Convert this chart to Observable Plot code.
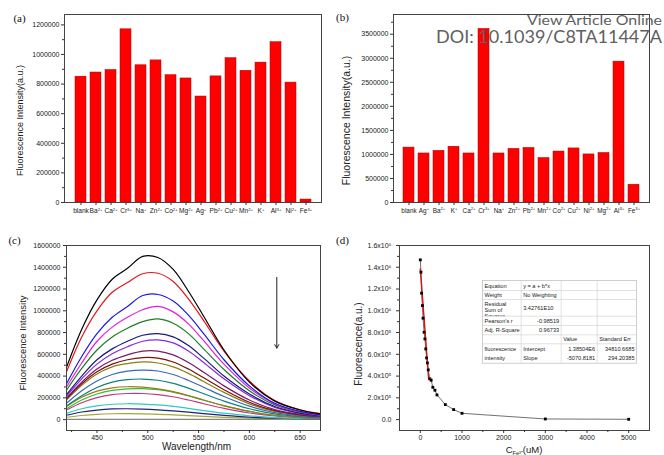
<!DOCTYPE html>
<html><head><meta charset="utf-8">
<script src="https://cdn.jsdelivr.net/npm/d3@7"></script>
<script src="https://cdn.jsdelivr.net/npm/@observablehq/plot@0.6"></script>
<style>
body{margin:0;background:#fff;}
#fig{position:relative;width:664px;height:455px;overflow:hidden;background:#fff;}
.panel{position:absolute;}
</style></head><body><div id="fig"></div>
<script>
// ---------- DATA ----------
const ionsA = ["blank","Ba²⁺","Ca²⁺","Cr³⁺","Na⁺","Zn²⁺","Co²⁺","Mg²⁺","Ag⁺","Pb²⁺","Cu²⁺","Mn²⁺","K⁺","Al³⁺","Ni²⁺","Fe³⁺"];
const intensityA = [850000,878000,895000,1170000,927000,960000,860000,838000,716000,852000,975000,890000,945000,1083000,810000,20000];
const ionsB = ["blank","Ag⁺","Ba²⁺","K⁺","Ca²⁺","Cr³⁺","Na⁺","Zn²⁺","Pb²⁺","Mn²⁺","Co²⁺","Cu²⁺","Ni²⁺","Mg²⁺","Al³⁺","Fe³⁺"];
const intensityB = [1142000,1020000,1075000,1160000,1020000,3610000,1020000,1115000,1135000,925000,1060000,1125000,1000000,1030000,2930000,370000];

const yTicksA = [0,200000,400000,600000,800000,1000000,1200000];
const yTicksB = [0,500000,1000000,1500000,2000000,2500000,3000000,3500000];

const wavelengths = [420,435,450,465,480,495,510,525,540,555,575,600,625,650,670];
const spectrum01 = [480000,830000,1100000,1290000,1390000,1500000,1490000,1380000,1180000,950000,640000,345000,170000,88000,52000];
const spectrum02 = [440000,760000,1000000,1170000,1260000,1340000,1345000,1270000,1110000,910000,630000,355000,175000,90000,55000];
const spectrum03 = [330000,580000,790000,940000,1040000,1140000,1150000,1090000,960000,790000,550000,310000,150000,75000,45000];
const spectrum04 = [300000,520000,720000,850000,940000,1010000,1040000,990000,880000,725000,510000,290000,145000,72000,42000];
const spectrum05 = [270000,470000,640000,760000,840000,900000,925000,885000,790000,650000,460000,265000,135000,68000,40000];
const spectrum06 = [230000,400000,550000,650000,720000,775000,790000,760000,680000,565000,400000,235000,120000,60000,36000];
const spectrum07 = [215000,375000,510000,605000,670000,720000,733000,705000,630000,525000,375000,220000,112000,57000,34000];
const spectrum08 = [200000,345000,465000,545000,595000,630000,630000,595000,525000,435000,310000,180000,92000,48000,30000];
const spectrum09 = [190000,330000,440000,510000,550000,570000,565000,530000,465000,385000,275000,160000,82000,43000,27000];
const spectrum10 = [180000,315000,420000,485000,515000,530000,520000,485000,425000,350000,250000,145000,75000,40000,25000];
const spectrum11 = [150000,265000,355000,415000,445000,455000,447000,415000,360000,298000,212000,124000,64000,34000,21000];
const spectrum12 = [125000,220000,295000,345000,368000,373000,362000,333000,290000,238000,170000,100000,52000,28000,18000];
const spectrum13 = [120000,205000,262000,292000,302000,298000,283000,258000,222000,180000,128000,75000,40000,22000,14000];
const spectrum14 = [100000,180000,235000,268000,283000,285000,275000,252000,218000,178000,127000,75000,40000,22000,14000];
const spectrum15 = [88000,155000,202000,230000,240000,240000,230000,210000,180000,146000,104000,61000,33000,18000,11000];
const spectrum16 = [58000,100000,127000,141000,146000,143000,135000,121000,103000,83000,59000,35000,19000,11000,7000];
const spectrum17 = [40000,70000,88000,98000,100000,97000,90000,80000,68000,55000,39000,23000,13000,8000,5000];
const spectrum18 = [22000,38000,49000,54000,55000,53000,49000,43000,37000,30000,21000,13000,8000,5000,3000];
const spectrum19 = [2000,2000,2000,2000,2000,2000,2000,2000,2000,2000,2000,2000,2000,2000,2000];
const spectra = [spectrum01,spectrum02,spectrum03,spectrum04,spectrum05,spectrum06,spectrum07,spectrum08,spectrum09,spectrum10,spectrum11,spectrum12,spectrum13,spectrum14,spectrum15,spectrum16,spectrum17,spectrum18,spectrum19];
const spectraColors = ["#000000","#e8141c","#1a1ae0","#e020e0","#1f7f1f","#1a1a7a","#8a2ae2","#7a1a6a","#7a1010","#8a8010","#3a6ab8","#108080","#a07820","#30c030","#c03a80","#30c8c8","#202080","#a8a830","#888888"];
const arrowC = {x: 627, y1: 1307000, y2: 657000};

const concentration = [0,15,30,50,65,90,110,130,150,170,190,230,260,300,350,400,600,800,1000,3000,5000];
const fluorescence = [1468000,1355000,1162000,1048000,932000,803000,742000,650000,567000,521000,457000,374000,362000,297000,270000,227000,138000,92000,58000,6000,3000];
const fitIntercept = 1385040;
const fitSlope = -5070.8181;
const fitRange = [0, 200];

const fitTable = [
  ["Equation","y = a + b*x","",""],
  ["Weight","No Weighting","",""],
  ["Residual|Sum of|Squares","3.42761E10","",""],
  ["Pearson's r","-0.98519","",""],
  ["Adj. R-Square","0.96733","",""],
  ["","","Value","Standard Err"],
  ["fluorescence","Intercept","1.38504E6","34810.6685"],
  ["intensity","Slope","-5070.8181","294.20385"]
];

// ---------- HELPERS ----------
const FONT = "'Liberation Sans', Arial, sans-serif";
const SERIF = "'Liberation Serif', 'Times New Roman', serif";
const fig = document.getElementById("fig");
function place(el, left, top) {
  const wrap = document.createElement("div");
  wrap.className = "panel";
  wrap.style.left = left + "px"; wrap.style.top = top + "px";
  wrap.appendChild(el); fig.appendChild(wrap);
  return wrap;
}
const baseStyle = {fontFamily: FONT, fontSize: "7px", color: "#222", background: "transparent", overflow: "visible"};

// render unicode superscripts in x tick labels as small raised text
function smallSuperscripts(svg, supSize) {
  d3.select(svg).selectAll('g[aria-label="x-axis tick label"] text').each(function () {
    const s = this.textContent;
    const m = s.match(/^([^²³⁺]+)([²³⁺]+)$/);
    if (!m) return;
    const supTxt = m[2].replace(/²/g, "2").replace(/³/g, "3").replace(/⁺/g, "+");
    this.textContent = "";
    d3.select(this).append("tspan").text(m[1]);
    d3.select(this).append("tspan").attr("font-size", supSize).attr("dy", "-0.5em").text(supTxt);
  });
}

function barPanel(o) {
  const data = o.ions.map((ion, i) => ({ion, value: o.values[i]}));
  const svg = Plot.plot({
    width: o.width, height: 225,
    marginLeft: o.ml, marginRight: o.mr, marginTop: 14, marginBottom: 23,
    style: baseStyle,
    x: {domain: o.ions, paddingInner: 0.3, paddingOuter: o.po, label: null},
    y: {domain: [0, o.yMax], label: null},
    marks: [
      Plot.barY(data, {x: "ion", y: "value", fill: "#ff0000", stroke: "#b00000", strokeWidth: 0.5}),
      Plot.frame({stroke: "#444"}),
      Plot.axisY(o.yTicks, {tickSize: 3, tickPadding: 2, tickFormat: d3.format("d"), fontSize: 7, label: null, stroke: "#333"}),
      Plot.axisY(o.yMinor, {tickSize: 2, tickFormat: () => "", label: null, stroke: "#333"}),
      Plot.axisX({tickSize: 3, tickPadding: 2.5, fontSize: o.xfs, label: null, stroke: "#333"}),
      Plot.text([o.title], {frameAnchor: "left", rotate: -90, dx: o.tdx, dy: 12, fontSize: o.tfs, textAnchor: "middle", lineAnchor: "middle", fill: "#222"}),
      Plot.text([o.letter], {frameAnchor: "top-left", dx: o.ldx, dy: o.ldy, fontSize: 11, fontFamily: SERIF, textAnchor: "middle", lineAnchor: "middle", fill: "#111"})
    ]
  });
  smallSuperscripts(svg, 4.2);
  return svg;
}

// ---------- PANEL A ----------
place(barPanel({
  ions: ionsA, values: intensityA, width: 330, ml: 64, mr: 9, po: 0.3,
  yMax: 1270000, yTicks: yTicksA, yMinor: d3.range(100000, 1270000, 200000),
  xfs: 6.6, title: "Fluorescence Intensity(a.u.)", tdx: -44, tfs: 9, letter: "(a)", ldx: -45, ldy: 3.5
}), 0, 0);

// ---------- PANEL B ----------
place(barPanel({
  ions: ionsB, values: intensityB, width: 334, ml: 63, mr: 15, po: 0.18,
  yMax: 3910000, yTicks: yTicksB, yMinor: d3.range(250000, 3910000, 500000),
  xfs: 6.4, title: "Fluorescence Intensity(a.u.)", tdx: -47, tfs: 10.5, letter: "(b)", ldx: -51, ldy: 3
}), 330, 0);

// ---------- PANEL C ----------
const specData = [];
spectra.forEach((s, k) => s.forEach((v, i) => specData.push({k, wl: wavelengths[i], v, color: spectraColors[k]})));
const pc = Plot.plot({
  width: 330, height: 230, marginLeft: 66, marginRight: 10, marginTop: 20, marginBottom: 25,
  style: baseStyle,
  x: {domain: [420, 670], label: null},
  y: {domain: [-100000, 1600000], label: null},
  color: {type: "identity"},
  marks: [
    Plot.line(specData.slice().reverse(), {x: "wl", y: "v", z: "k", stroke: "color", curve: "catmull-rom", strokeWidth: 1.2}),
    Plot.arrow([arrowC], {x1: "x", x2: "x", y1: "y1", y2: "y2", stroke: "#222", strokeWidth: 1, headLength: 6}),
    Plot.frame({stroke: "#444"}),
    Plot.axisY(d3.range(0, 1600001, 200000), {tickSize: 3, tickPadding: 3, tickFormat: d3.format("d"), fontSize: 7, label: null, stroke: "#333"}),
    Plot.axisY(d3.range(100000, 1600000, 200000), {tickSize: 2, tickFormat: () => "", label: null, stroke: "#333"}),
    Plot.axisX([450, 500, 550, 600, 650], {tickSize: 3, tickPadding: 2, fontSize: 7, tickFormat: d3.format("d"), label: null, stroke: "#333"}),
    Plot.axisX([425, 475, 525, 575, 625], {tickSize: 2, tickFormat: () => "", label: null, stroke: "#333"}),
    Plot.text(["Fluorescence Intensity"], {frameAnchor: "left", rotate: -90, dx: -44, dy: 5, fontSize: 9.5, textAnchor: "middle", lineAnchor: "middle", fill: "#222"}),
    Plot.text(["Wavelength/nm"], {frameAnchor: "bottom", dx: 3, dy: 16, fontSize: 10, textAnchor: "middle", lineAnchor: "middle", fill: "#222"}),
    Plot.text(["(c)"], {frameAnchor: "top-left", dx: -52, dy: -5, fontSize: 11, fontFamily: SERIF, textAnchor: "middle", lineAnchor: "middle", fill: "#111"})
  ]
});
place(pc, 0, 225);

// ---------- PANEL D ----------
const sup = "⁰¹²³⁴⁵⁶⁷⁸⁹";
function sci(v) {
  if (v === 0) return "0.0";
  const e = Math.floor(Math.log10(v) + 1e-9);
  return (v / 10 ** e).toFixed(1) + "x10" + sup[e];
}
const pts = concentration.map((c, i) => ({c, f: fluorescence[i]}));
const fitPts = fitRange.map(c => ({c, f: fitIntercept + fitSlope * c}));
const pd = Plot.plot({
  width: 334, height: 230, marginLeft: 69, marginRight: 15, marginTop: 20, marginBottom: 25,
  style: baseStyle,
  x: {domain: [-500, 5500], label: null},
  y: {domain: [-100000, 1600000], label: null},
  marks: [
    Plot.line(pts, {x: "c", y: "f", stroke: "#333", strokeWidth: 0.7}),
    Plot.line(fitPts, {x: "c", y: "f", stroke: "#e01010", strokeWidth: 1.4}),
    Plot.dot(pts, {x: "c", y: "f", symbol: "square", r: 1.6, fill: "#000"}),
    Plot.frame({stroke: "#444"}),
    Plot.axisY(d3.range(0, 1600001, 200000), {tickSize: 3, tickPadding: 5, tickFormat: sci, fontSize: 7, label: null, stroke: "#333"}),
    Plot.axisY(d3.range(100000, 1600000, 200000), {tickSize: 2, tickFormat: () => "", label: null, stroke: "#333"}),
    Plot.axisX([0, 1000, 2000, 3000, 4000, 5000], {tickSize: 3, tickPadding: 2, fontSize: 7, tickFormat: d3.format("d"), label: null, stroke: "#333"}),
    Plot.axisX([500, 1500, 2500, 3500, 4500], {tickSize: 2, tickFormat: () => "", label: null, stroke: "#333"}),
    Plot.text(["Fluorescence(a.u.)"], {frameAnchor: "left", rotate: -90, dx: -41, dy: 6, fontSize: 10, textAnchor: "middle", lineAnchor: "middle", fill: "#222"}),
    Plot.text(["(d)"], {frameAnchor: "top-left", dx: -57, dy: -5, fontSize: 11, fontFamily: SERIF, textAnchor: "middle", lineAnchor: "middle", fill: "#111"})
  ]
});
// x label with subscript
const xl = d3.select(pd).append("text")
  .attr("x", 194).attr("y", 227.5).attr("text-anchor", "middle")
  .attr("font-size", 9.5).attr("font-family", FONT).attr("fill", "#222");
xl.append("tspan").text("C");
xl.append("tspan").attr("font-size", 5.5).attr("dy", 2).text("Fe³⁺");
xl.append("tspan").attr("dy", -2).text("(uM)");
place(pd, 330, 225);

// ---------- FIT TABLE (inset of d) ----------
const cols = [0, 38.7, 78.7, 114.7, 154];
const rows = [0, 10, 19, 35.7, 45, 54.3, 63.3, 73, 82.7];
const tsvg = d3.create("svg").attr("width", 156).attr("height", 85)
  .attr("font-family", FONT).attr("font-size", 5.6).attr("fill", "#222");
const tg = tsvg.append("g").attr("transform", "translate(0.5,0.5)");
tg.append("rect").attr("width", cols[4]).attr("height", rows[8]).attr("fill", "#fff").attr("stroke", "#bbb").attr("stroke-width", 0.7);
const defs = tsvg.append("defs");
fitTable.forEach((row, r) => {
  row.forEach((txt, c) => {
    if (!txt) return;
    const id = `cl${r}_${c}`;
    const x0 = cols[c], x1 = (c === 1 && (r === 0 || r === 1)) ? cols[3] : cols[c + 1];
    let y0 = rows[r], y1 = rows[r + 1];
    defs.append("clipPath").attr("id", id).append("rect").attr("x", x0).attr("y", y0).attr("width", x1 - x0).attr("height", y1 - y0);
    const right = (c === 1 && (r === 3 || r === 4)) || (c >= 2 && r >= 6);
    const lines = txt.split("|");
    const t = tg.append("text").attr("clip-path", `url(#${id})`)
      .attr("text-anchor", right ? "end" : "start");
    lines.forEach((ln, j) => {
      t.append("tspan").attr("x", right ? cols[c + 1] - 2 : x0 + 2)
        .attr("y", (lines.length > 1 ? y0 + 6 + j * 6 : (y0 + y1) / 2 + 2)).text(ln);
    });
  });
});
// grid lines
[1, 2, 3, 4, 5, 6].forEach(r => tg.append("line").attr("x1", 0).attr("x2", cols[4]).attr("y1", rows[r]).attr("y2", rows[r]).attr("stroke", "#ccc").attr("stroke-width", 0.6));
[1, 2, 3].forEach(c => tg.append("line").attr("x1", cols[c]).attr("x2", cols[c]).attr("y1", 0).attr("y2", rows[8]).attr("stroke", "#ccc").attr("stroke-width", 0.6));
place(tsvg.node(), 481.5, 279.5);

// ---------- WATERMARK ----------
const wm = d3.create("svg").attr("width", 664).attr("height", 60);
wm.append("text").attr("x", 662).attr("y", 25).attr("text-anchor", "end")
  .attr("font-family", "Lato, 'Open Sans', sans-serif").attr("font-size", 14).attr("fill", "#606060")
  .attr("textLength", 135).attr("lengthAdjust", "spacingAndGlyphs").text("View Article Online");
wm.append("text").attr("x", 662).attr("y", 42.5).attr("text-anchor", "end")
  .attr("font-family", "Lato, 'Open Sans', sans-serif").attr("font-size", 16.5).attr("fill", "#606060")
  .attr("textLength", 226).attr("lengthAdjust", "spacingAndGlyphs").text("DOI: 10.1039/C8TA11447A");
const wmw = place(wm.node(), 0, 0);
wmw.style.pointerEvents = "none";
</script>
</body></html>
